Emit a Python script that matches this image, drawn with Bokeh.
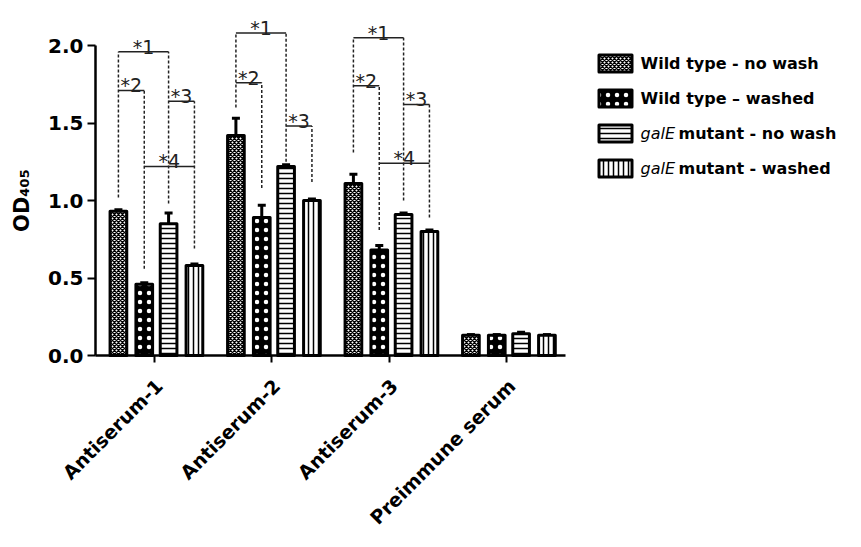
import math
from bokeh.plotting import figure
from bokeh.models import Range1d, FixedTicker, PrintfTickFormatter, ColumnDataSource
from bokeh.embed import file_html
from bokeh.resources import INLINE
from bokeh.core.properties import value

# ---------------- data ----------------
categories = ["Antiserum-1", "Antiserum-2", "Antiserum-3", "Preimmune serum"]
series = ["Wild type - no wash", "Wild type \u2013 washed",
          "galE mutant - no wash", "galE mutant - washed"]
wt_nowash = [0.93, 1.42, 1.11, 0.13]
wt_washed = [0.46, 0.89, 0.68, 0.13]
gal_nowash = [0.85, 1.22, 0.91, 0.14]
gal_washed = [0.58, 1.00, 0.80, 0.13]
wt_nowash_err = [0.01, 0.11, 0.06, 0.005]
wt_washed_err = [0.01, 0.08, 0.03, 0.005]
gal_nowash_err = [0.07, 0.01, 0.01, 0.01]
gal_washed_err = [0.01, 0.01, 0.01, 0.005]
y_ticks = [0.0, 0.5, 1.0, 1.5, 2.0]

# significance brackets (label, pair of bars joined)
bracket_labels = ["*1", "*2", "*3", "*4"]
bracket_pairs = [(0, 2), (0, 1), (2, 3), (1, 3)]
bracket_levels_1 = [1.96, 1.71, 1.64, 1.22]
bracket_levels_2 = [2.08, 1.76, 1.48, None]
bracket_levels_3 = [2.05, 1.74, 1.62, 1.24]
dash_bottoms_1 = [1.02, 0.56, 0.98, 0.69]
dash_bottoms_2 = [1.60, 1.08, 1.25, 1.12]
dash_bottoms_3 = [1.31, 0.81, 1.00, 0.89]

values = [wt_nowash, wt_washed, gal_nowash, gal_washed]
errors = [wt_nowash_err, wt_washed_err, gal_nowash_err, gal_washed_err]
bracket_levels = [bracket_levels_1, bracket_levels_2, bracket_levels_3]
dash_bottoms = [dash_bottoms_1, dash_bottoms_2, dash_bottoms_3]

# ---------------- layout / styles ----------------
W, H = 845, 531
ORIGIN_X = 95         # canvas x of the value axis
ZERO_Y = 355          # canvas y of OD = 0
PX_X = 117.5          # pixels per category
PX_Y = 155.0          # pixels per OD unit

offsets = [-0.305, -0.085, 0.122, 0.342]
bar_w = 0.142
styles = [
    dict(fill_color="white", hatch_pattern="diagonal_cross", hatch_color="black", hatch_scale=4, hatch_weight=1.4),
    dict(fill_color="black", hatch_pattern="dot", hatch_color="white", hatch_scale=9, hatch_weight=4.5),
    dict(fill_color="white", hatch_pattern="horizontal_line", hatch_color="black", hatch_scale=5, hatch_weight=1.5),
    dict(fill_color="white", hatch_pattern="vertical_line", hatch_color="black", hatch_scale=5, hatch_weight=1.5),
]
FONT = "DejaVu Sans"

p = figure(width=W, height=H,
           x_range=Range1d(-ORIGIN_X / PX_X, (W - ORIGIN_X) / PX_X),
           y_range=Range1d(-(H - ZERO_Y) / PX_Y, ZERO_Y / PX_Y),
           output_backend="svg", toolbar_location=None,
           min_border_left=0, min_border_right=0, min_border_top=0, min_border_bottom=0)
p.grid.visible = False
p.outline_line_color = None
p.background_fill_color = "white"

def dx(px):  # pixel distance -> data x
    return px / PX_X

def dy(px):  # pixel distance -> data y
    return px / PX_Y

# error bars
for j in range(4):
    xs = [i + 0.5 + offsets[j] for i in range(len(categories))]
    tops = [v + e for v, e in zip(values[j], errors[j])]
    src = ColumnDataSource(dict(x=xs, y=values[j], t=tops,
                                xl=[x - dx(4) for x in xs], xr=[x + dx(4) for x in xs]))
    p.segment(x0="x", y0="y", x1="x", y1="t", source=src, line_color="black", line_width=3)
    p.segment(x0="xl", y0="t", x1="xr", y1="t", source=src, line_color="black", line_width=3)

# bars
for j in range(4):
    xs = [i + 0.5 + offsets[j] for i in range(len(categories))]
    src = ColumnDataSource(dict(x=xs, top=values[j]))
    p.vbar(x="x", top="top", bottom=0, width=bar_w, source=src,
           line_color="black", line_width=3, line_join="round", **styles[j])

# brackets
for g, levels in enumerate(bracket_levels):
    bx = [g + 0.5 + o for o in offsets]
    hx0, hx1, hy, tx, ty, tt = [], [], [], [], [], []
    vtops = [None] * 4
    for k, lev in enumerate(levels):
        if lev is None:
            continue
        a, b = bracket_pairs[k]
        hx0.append(bx[a]); hx1.append(bx[b]); hy.append(lev)
        tx.append((bx[a] + bx[b]) / 2); ty.append(lev + dy(5)); tt.append(bracket_labels[k])
        for j in (a, b):
            vtops[j] = lev if vtops[j] is None else max(vtops[j], lev)
    p.segment(x0=hx0, y0=hy, x1=hx1, y1=hy, line_color="#222222", line_width=1.5)
    vx = [bx[j] for j in range(4) if vtops[j] is not None]
    vb = [dash_bottoms[g][j] for j in range(4) if vtops[j] is not None]
    vt = [vtops[j] for j in range(4) if vtops[j] is not None]
    p.segment(x0=vx, y0=vb, x1=vx, y1=vt, line_color="#222222", line_width=1.5, line_dash="3 2")
    p.text(x=tx, y=ty, text=tt, text_align="center", text_baseline="alphabetic",
           text_font=value(FONT), text_font_size="19px", text_color="#222222")

# category axis
cat_x = [i + 0.5 for i in range(len(categories))]
p.xaxis.fixed_location = 0
p.xaxis.bounds = (0, len(categories))
p.xaxis.ticker = FixedTicker(ticks=cat_x)
p.xaxis.major_label_overrides = {x: "" for x in cat_x}
p.xaxis.major_tick_out = 7
p.xaxis.major_tick_in = 0
p.xaxis.minor_tick_line_color = None
p.xaxis.axis_line_width = 2.5
p.xaxis.major_tick_line_width = 2
# slanted category names, hung from each tick
p.text(x=[x + dx(5) for x in cat_x], y=[-dy(27)] * len(categories), text=categories,
       angle=math.pi / 4, text_align="right", text_baseline="middle",
       text_font=value(FONT), text_font_style="bold", text_font_size="19px", text_color="black")

# value axis
p.yaxis.fixed_location = 0
p.yaxis.ticker = FixedTicker(ticks=y_ticks)
p.yaxis.formatter = PrintfTickFormatter(format="%.1f")
p.yaxis.bounds = (0, 2)
p.yaxis.major_tick_out = 8
p.yaxis.major_tick_in = 0
p.yaxis.minor_tick_line_color = None
p.yaxis.axis_line_width = 2.5
p.yaxis.major_tick_line_width = 2
p.yaxis.major_label_text_font = FONT
p.yaxis.major_label_text_font_style = "bold"
p.yaxis.major_label_text_font_size = "20px"
p.yaxis.major_label_text_color = "black"
p.yaxis.major_label_standoff = 4
p.yaxis.axis_label = "OD\u2084\u2080\u2085"
p.yaxis.axis_label_text_font = FONT
p.yaxis.axis_label_text_font_style = "bold"
p.yaxis.axis_label_text_font_size = "21px"
p.yaxis.axis_label_text_color = "black"
p.yaxis.axis_label_standoff = 11

# ---------------- legend (drawn in the free area right of the bars) ----------------
def cx(px):  # canvas x -> data x
    return (px - ORIGIN_X) / PX_X

def cy(px):  # canvas y -> data y
    return (ZERO_Y - px) / PX_Y

leg_top, leg_step = 63, 35
for j, name in enumerate(series):
    yy = cy(leg_top + leg_step * j)
    p.rect(x=[cx(615)], y=[yy], width=dx(33), height=dy(17), line_color="black",
           line_width=3, line_join="round", **styles[j])
    if name.startswith("galE"):
        p.text(x=[cx(640)], y=[yy], text=["galE"], text_baseline="middle",
               text_font=value(FONT), text_font_style="italic", text_font_size="16px",
               text_color="black")
        p.text(x=[cx(678)], y=[yy], text=[name[5:]], text_baseline="middle",
               text_font=value(FONT), text_font_style="bold", text_font_size="16px",
               text_color="black")
    else:
        p.text(x=[cx(640)], y=[yy], text=[name], text_baseline="middle",
               text_font=value(FONT), text_font_style="bold", text_font_size="16px",
               text_color="black")

open("out.html", "w").write(file_html(p, INLINE))
